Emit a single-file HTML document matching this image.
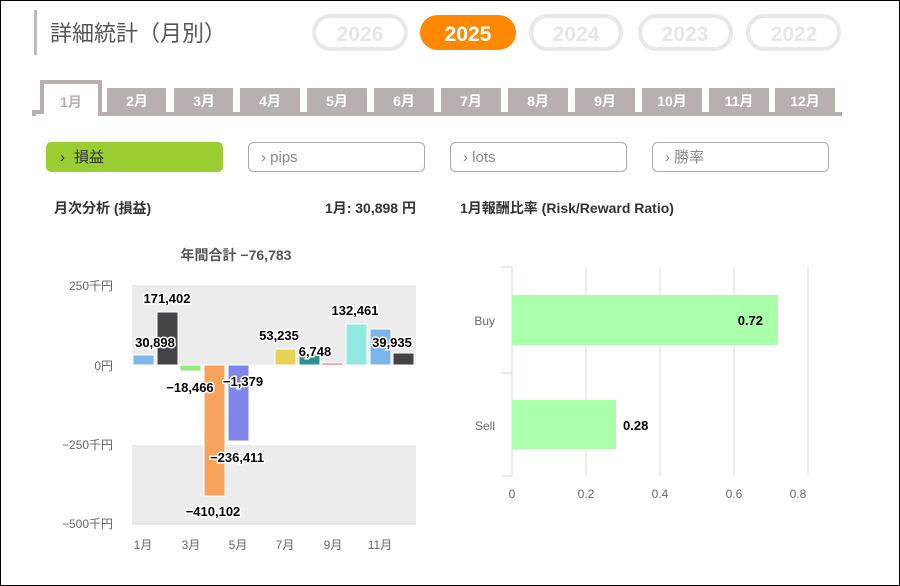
<!DOCTYPE html>
<html><head><meta charset="utf-8"><style>
body{margin:0;background:#fff}
svg{display:block}
text{font-family:"Liberation Sans","Noto Sans CJK JP",sans-serif}
</style></head><body>
<svg width="900" height="586" xmlns="http://www.w3.org/2000/svg">
<rect x="0.5" y="0.5" width="899" height="585" fill="#fff" stroke="#000"/>
<rect x="34" y="10" width="3" height="45" fill="#bbb"/>
<text x="50" y="41" font-size="22" fill="#555">詳細統計（月別）</text>
<g font-size="21" font-weight="bold" text-anchor="middle">
<rect x="314" y="16" width="92" height="33" rx="16.5" fill="#fff" stroke="#e8e8e8" stroke-width="4"/><text x="360" y="41" fill="#e6e6e6">2026</text>
<rect x="420" y="15" width="96" height="35" rx="17.5" fill="#ff8800"/><text x="468" y="41" fill="#fff">2025</text>
<rect x="531" y="16" width="90" height="33" rx="16.5" fill="#fff" stroke="#e8e8e8" stroke-width="4"/><text x="576" y="41" fill="#e6e6e6">2024</text>
<rect x="640" y="16" width="91" height="33" rx="16.5" fill="#fff" stroke="#e8e8e8" stroke-width="4"/><text x="685" y="41" fill="#e6e6e6">2023</text>
<rect x="748" y="16" width="91" height="33" rx="16.5" fill="#fff" stroke="#e8e8e8" stroke-width="4"/><text x="794" y="41" fill="#e6e6e6">2022</text>
</g>
<rect x="34" y="112" width="808" height="4" fill="#b8b0ae"/>
<path d="M34 116 V112 H42 V82 H100 V116" fill="#fff" stroke="#b8b0ae" stroke-width="4"/>
<g font-size="14" font-weight="bold" fill="#fff" text-anchor="middle">
<text x="71" y="107" fill="#b8b0ae">1月</text>
<rect x="107" y="88" width="59" height="24" fill="#b8b0ae"/><text x="137" y="106">2月</text>
<rect x="174" y="88" width="59" height="24" fill="#b8b0ae"/><text x="204" y="106">3月</text>
<rect x="240" y="88" width="60" height="24" fill="#b8b0ae"/><text x="270" y="106">4月</text>
<rect x="307" y="88" width="60" height="24" fill="#b8b0ae"/><text x="337" y="106">5月</text>
<rect x="374" y="88" width="60" height="24" fill="#b8b0ae"/><text x="404" y="106">6月</text>
<rect x="441" y="88" width="60" height="24" fill="#b8b0ae"/><text x="471" y="106">7月</text>
<rect x="508" y="88" width="60" height="24" fill="#b8b0ae"/><text x="538" y="106">8月</text>
<rect x="575" y="88" width="60" height="24" fill="#b8b0ae"/><text x="605" y="106">9月</text>
<rect x="642" y="88" width="60" height="24" fill="#b8b0ae"/><text x="672" y="106">10月</text>
<rect x="709" y="88" width="60" height="24" fill="#b8b0ae"/><text x="739" y="106">11月</text>
<rect x="775" y="88" width="60" height="24" fill="#b8b0ae"/><text x="805" y="106">12月</text>
</g>
<g font-size="15">
<rect x="46" y="142" width="177" height="30" rx="5" fill="#9acd32"/><text x="60" y="162" fill="#333">›</text><text x="74" y="162" fill="#333">損益</text>
<rect x="248.5" y="142.5" width="176" height="29" rx="5" fill="#fff" stroke="#aaa"/><text x="261" y="162" fill="#888">› pips</text>
<rect x="450.5" y="142.5" width="176" height="29" rx="5" fill="#fff" stroke="#aaa"/><text x="463" y="162" fill="#888">› lots</text>
<rect x="652.5" y="142.5" width="176" height="29" rx="5" fill="#fff" stroke="#aaa"/><text x="665" y="162" fill="#888">› 勝率</text>
</g>
<g font-size="14" font-weight="bold" fill="#333">
<text x="54" y="213">月次分析 (損益)</text>
<text x="416" y="213" text-anchor="end">1月:  30,898 円</text>
<text x="460" y="213">1月報酬比率 (Risk/Reward Ratio)</text>
<text x="236" y="260" text-anchor="middle" fill="#555">年間合計 −76,783</text>
</g>
<rect x="132" y="285" width="284" height="80" fill="#ececec"/>
<rect x="132" y="445" width="284" height="79" fill="#ececec"/>
<line x1="132" y1="524" x2="416" y2="524" stroke="#ccd6eb"/>
<g font-size="12" fill="#666" text-anchor="end">
<text x="113" y="290">250千円</text><text x="113" y="370">0円</text><text x="113" y="449">−250千円</text><text x="113" y="528">−500千円</text>
</g>
<g font-size="12" fill="#666" text-anchor="middle">
<text x="143" y="549">1月</text><text x="191" y="549">3月</text><text x="238" y="549">5月</text><text x="285" y="549">7月</text><text x="333" y="549">9月</text><text x="380" y="549">11月</text>
</g>
<g stroke="#fff" stroke-width="1">
<rect x="133" y="355" width="21" height="10" fill="#7cb5ec"/>
<rect x="157" y="312" width="21" height="53" fill="#434348"/>
<rect x="180" y="365" width="21" height="6" fill="#90ed7d"/>
<rect x="204" y="365" width="21" height="131" fill="#f7a35c"/>
<rect x="228" y="365" width="21" height="76" fill="#8085e9"/>
<rect x="275" y="349" width="21" height="16" fill="#e4d354"/>
<rect x="299" y="354" width="21" height="11" fill="#2b908f"/>
<rect x="322" y="363" width="21" height="2" fill="#f45b5b"/>
<rect x="346" y="324" width="21" height="41" fill="#91e8e1"/>
<rect x="370" y="329" width="21" height="36" fill="#7cb5ec"/>
<rect x="393" y="353" width="21" height="12" fill="#434348"/>
</g>
<g font-size="13" font-weight="bold" fill="#000" stroke="#fff" stroke-width="3" paint-order="stroke" text-anchor="middle">
<text x="155" y="347">30,898</text><text x="167" y="303">171,402</text>
<text x="190" y="392">−18,466</text><text x="213" y="516">−410,102</text>
<text x="237" y="462">−236,411</text><text x="243" y="386">−1,379</text>
<text x="279" y="340">53,235</text><text x="315" y="356">6,748</text>
<text x="355" y="315">132,461</text><text x="392" y="347">39,935</text>
</g>
<g stroke="#e6e6e6" stroke-width="1.5">
<line x1="586" y1="267" x2="586" y="476" y2="476"/><line x1="660" y1="267" x2="660" y2="476"/><line x1="734" y1="267" x2="734" y2="476"/><line x1="808" y1="267" x2="808" y2="476"/>
</g>
<path d="M501 267 H512 V476 H501 M501 373 H512" fill="none" stroke="#ccd6eb"/>
<rect x="512" y="295" width="266" height="50" fill="#aaffaa"/>
<rect x="512" y="400" width="104" height="49" fill="#aaffaa"/>
<g font-size="13" font-weight="bold" fill="#000">
<text x="763" y="325" text-anchor="end">0.72</text><text x="623" y="430">0.28</text>
</g>
<g font-size="12" fill="#666">
<text x="495" y="325" text-anchor="end">Buy</text><text x="495" y="430" text-anchor="end">Sell</text>
</g>
<g font-size="12" fill="#666" text-anchor="middle">
<text x="512" y="498">0</text><text x="586" y="498">0.2</text><text x="660" y="498">0.4</text><text x="734" y="498">0.6</text><text x="798" y="498">0.8</text>
</g>
</svg>
</body></html>
